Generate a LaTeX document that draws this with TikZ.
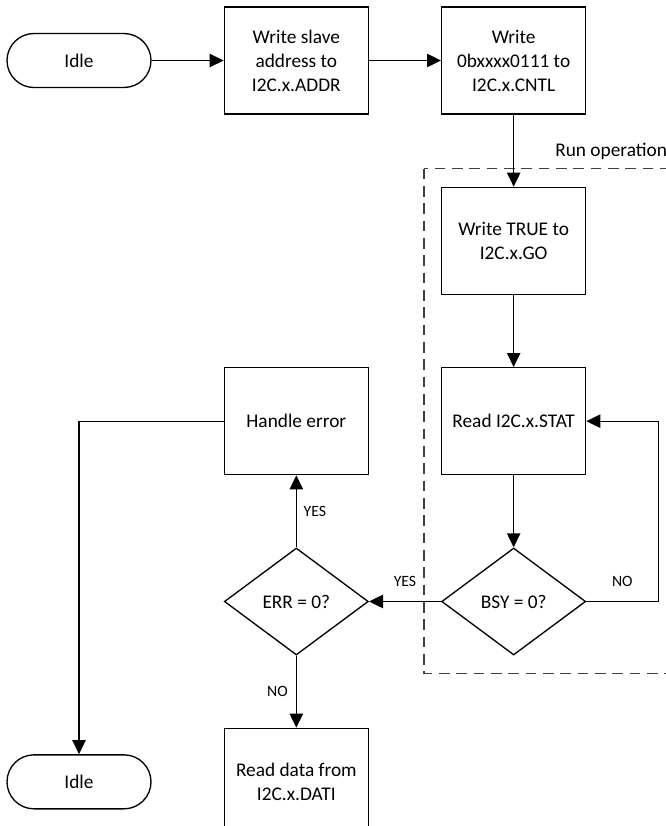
\documentclass[tikz,border=0pt]{standalone}
\usepackage{fontspec}
\setmainfont{Carlito}
\usetikzlibrary{positioning,shapes.geometric,arrows.meta}

\begin{document}
\begin{tikzpicture}[x=0.75pt,y=-0.75pt,node distance=54pt,line width=1pt,
	>={Triangle[length=10.5pt,width=10pt]},
	every node/.style={font=\fontsize{14.5pt}{18pt}\selectfont},
	box/.style={draw,align=center,minimum width=108pt,minimum height=80.25pt,inner sep=2pt},
	term/.style={draw,rounded corners=20.25pt,minimum width=108pt,minimum height=40.5pt},
	test/.style={draw,diamond,minimum width=108pt,minimum height=80.25pt,inner sep=0pt},
	lbl/.style={font=\fontsize{11.8pt}{13pt}\selectfont,inner sep=0pt},
	frame/.style={draw=black!75,dash pattern=on 8pt off 5pt}]
	\useasboundingbox (0,0) rectangle (666,826);
	\clip (0,0) rectangle (666,826);
	\node[term] (idle) at (79,60.5) {Idle};
	\node[box,right=of idle] (addr) {Write slave\\address to\\I2C.x.ADDR};
	\node[box,right=of addr] (cntl) {Write\\0bxxxx0111 to\\I2C.x.CNTL};
	\node[box,below=of cntl] (go) {Write TRUE to\\I2C.x.GO};
	\node[box,below=of go] (stat) {Read I2C.x.STAT};
	\node[test,below=of stat] (bsy) {BSY = 0?};
	\node[test,left=of bsy] (err) {ERR = 0?};
	\node[box,above=of err] (herr) {Handle error};
	\node[box,below=of err] (dati) {Read data from\\I2C.x.DATI};
	\node[term,left=of dati] (idleend) {Idle};
	% run operation
	\draw[frame] ([xshift=-12.75pt,yshift=13.5pt]go.north west) rectangle ([xshift=134pt,yshift=-13.5pt]bsy.south);
	\node[anchor=base east,inner sep=0pt] (runlbl) at ([xshift=115.5pt,yshift=22.5pt]go.north) {Run operation};
	\draw[->] (idle) -- (addr);
	\draw[->] (addr) -- (cntl);
	\draw[->] (cntl) -- (go);
	\draw[->] (go) -- (stat);
	\draw[->] (stat) -- (bsy);
	\draw[->] (bsy) -- node[lbl,above=10.5pt]{YES} (err);
	\draw[->] (bsy.east) -- node[lbl,above=10.5pt]{NO} ++(54pt,0) |- (stat.east);
	\draw[->] (err) -- node[lbl,right=5pt]{YES} (herr);
	\draw[->] (err) -- node[lbl,left=6pt]{NO} (dati);
	\draw[->] (herr) -| (idleend);
\end{tikzpicture}
\end{document}
